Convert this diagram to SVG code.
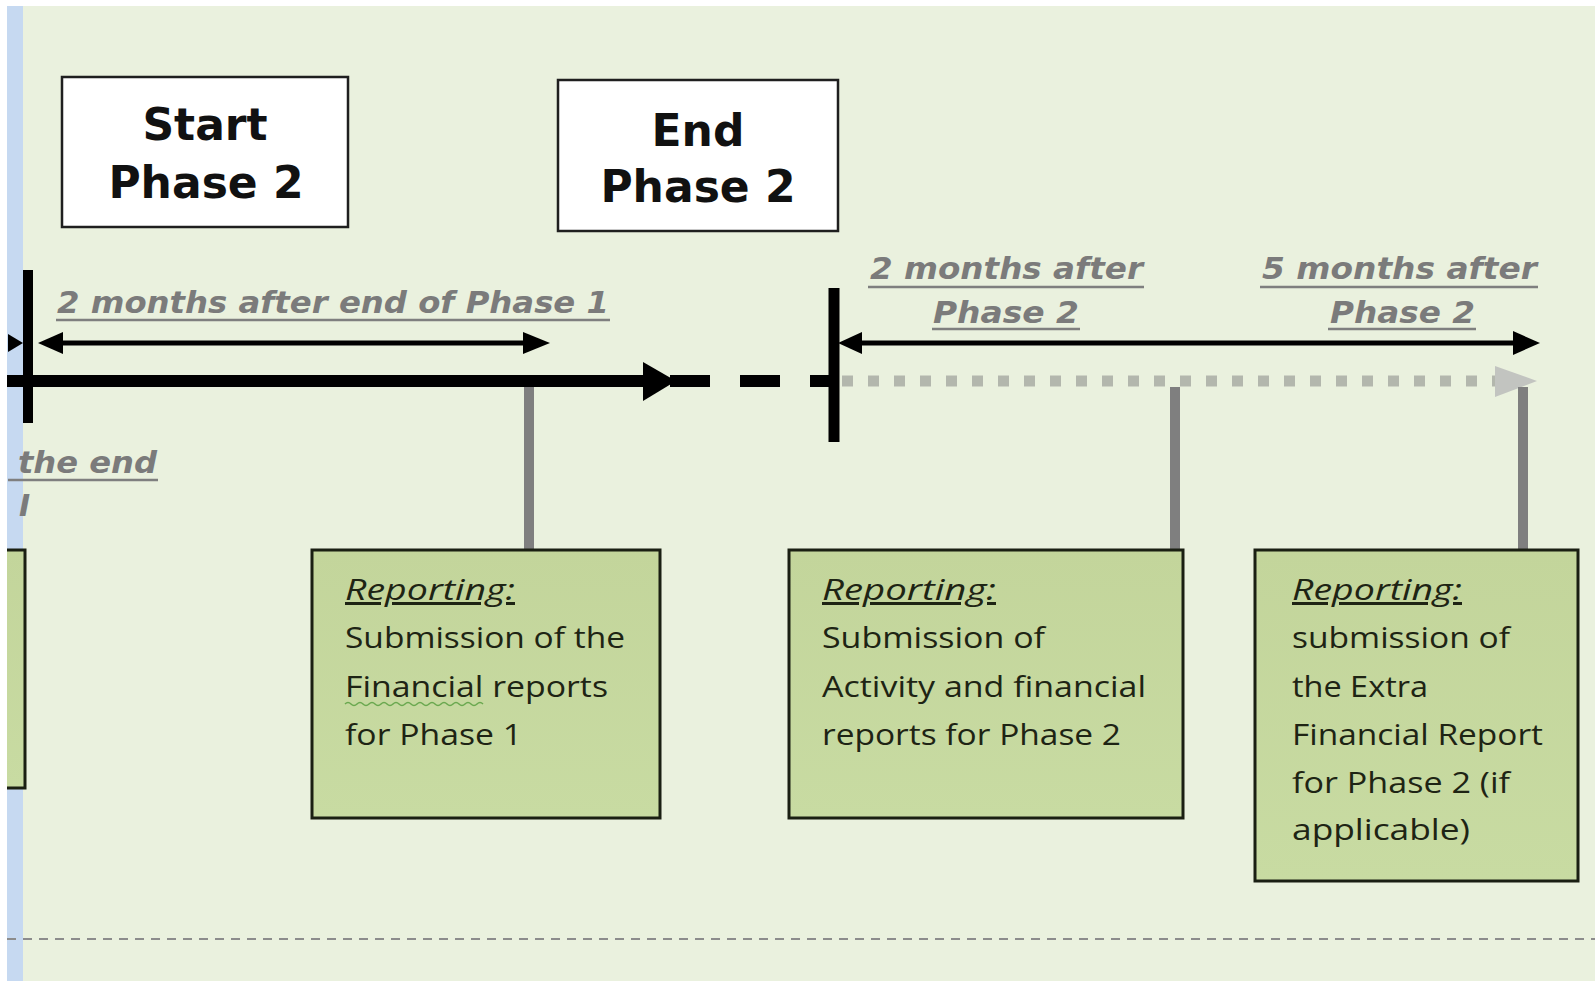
<svg xmlns="http://www.w3.org/2000/svg" width="1595" height="981" viewBox="0 0 1595 981">
<defs>
<style>
.title{font-family:"DejaVu Sans","Liberation Sans",sans-serif;font-weight:bold;font-size:44px;fill:#111;text-anchor:middle}
.lbl{font-family:"DejaVu Sans","Liberation Sans",sans-serif;font-weight:bold;font-style:italic;font-size:30px;fill:#7b7b7b}
.ul{stroke:#7f7f7f;stroke-width:2.5}
.box{font-family:"Open Sans","Liberation Sans",sans-serif;font-size:30px;fill:#1e2414}
.rep{font-style:italic;text-decoration:underline}
.wbox{fill:#ffffff;stroke:#1f1f1f;stroke-width:2.5}
.gbox{fill:url(#gg);stroke:#1a1f12;stroke-width:3}
.conn{stroke:#7f7f7f;stroke-width:10}
</style>
<linearGradient id="gg" x1="0" y1="0" x2="0" y2="1">
<stop offset="0" stop-color="#c3d59b"/>
<stop offset="1" stop-color="#c8dba2"/>
</linearGradient>
</defs>
<rect x="0" y="0" width="1595" height="981" fill="#ffffff"/>
<rect x="7" y="6" width="1588" height="975" fill="#eaf1de"/>
<rect x="7" y="6" width="16" height="975" fill="#c6d9f1"/>

<g id="start-phase2">
<rect class="wbox" x="62" y="77" width="286" height="150"/>
<text class="title" x="205" y="140">Start</text>
<text class="title" x="206" y="198">Phase 2</text>
</g>
<g id="end-phase2">
<rect class="wbox" x="558" y="80" width="280" height="151"/>
<text class="title" x="698" y="146">End</text>
<text class="title" x="698" y="202">Phase 2</text>
</g>

<g id="label-phase1">
<text class="lbl" x="57" y="313" textLength="552" lengthAdjust="spacingAndGlyphs">2 months after end of Phase 1</text>
<line class="ul" x1="56" y1="320" x2="610" y2="320"/>
</g>
<g id="label-end-left">
<text class="lbl" x="18" y="473" textLength="139" lengthAdjust="spacingAndGlyphs">the end</text>
<line class="ul" x1="8" y1="480" x2="158" y2="480"/>
<text class="lbl" x="19" y="516" font-size="34">I</text>
</g>
<g id="label-2months">
<text class="lbl" x="870" y="279" textLength="273" lengthAdjust="spacingAndGlyphs">2 months after</text>
<line class="ul" x1="868" y1="287" x2="1144" y2="287"/>
<text class="lbl" x="933" y="323" textLength="146" lengthAdjust="spacingAndGlyphs">Phase 2</text>
<line class="ul" x1="932" y1="329" x2="1080" y2="329"/>
</g>
<g id="label-5months">
<text class="lbl" x="1262" y="279" textLength="275" lengthAdjust="spacingAndGlyphs">5 months after</text>
<line class="ul" x1="1260" y1="287" x2="1538" y2="287"/>
<text class="lbl" x="1330" y="323" textLength="145" lengthAdjust="spacingAndGlyphs">Phase 2</text>
<line class="ul" x1="1328" y1="329" x2="1476" y2="329"/>
</g>

<g id="connectors">
<line x1="842" y1="381" x2="1500" y2="381" stroke="#b3b7ad" stroke-width="11" stroke-dasharray="11 15"/>
<polygon points="1495,366 1537,381 1495,397" fill="#c2c4c0"/>
<line class="conn" x1="529" y1="387" x2="529" y2="550"/>
<line class="conn" x1="1175" y1="387" x2="1175" y2="550"/>
<line class="conn" x1="1523" y1="387" x2="1523" y2="550"/>
<line x1="7" y1="381" x2="650" y2="381" stroke="#000" stroke-width="12"/>
<polygon points="643,362 676,381 643,401" fill="#000"/>
<line x1="670" y1="381" x2="710" y2="381" stroke="#000" stroke-width="12"/>
<line x1="740" y1="381" x2="780" y2="381" stroke="#000" stroke-width="12"/>
<line x1="810" y1="381" x2="834" y2="381" stroke="#000" stroke-width="12"/>
<line x1="28" y1="270" x2="28" y2="423" stroke="#000" stroke-width="10"/>
<line x1="834" y1="288" x2="834" y2="442" stroke="#000" stroke-width="11"/>
<line x1="55" y1="343" x2="530" y2="343" stroke="#000" stroke-width="5"/>
<polygon points="38,343 63,332 63,354" fill="#000"/>
<polygon points="550,343 523,332 523,354" fill="#000"/>
<polygon points="23,343 8,334 8,352" fill="#000"/>
<line x1="855" y1="343" x2="1520" y2="343" stroke="#000" stroke-width="5"/>
<polygon points="838,343 862,332 862,354" fill="#000"/>
<polygon points="1540,343 1513,331 1513,355" fill="#000"/>
</g>

<g id="box-left-partial">
<rect x="7" y="550" width="18" height="238" fill="url(#gg)"/>
<path d="M7,550 H25 V788 H7" fill="none" stroke="#1a1f12" stroke-width="3"/>
</g>
<g id="box-phase1-report">
<rect class="gbox" x="312" y="550" width="348" height="268"/>
<text class="box rep" x="345" y="600" textLength="170" lengthAdjust="spacingAndGlyphs">Reporting:</text>
<text class="box" x="345" y="648" textLength="280" lengthAdjust="spacingAndGlyphs">Submission of the</text>
<text class="box" x="345" y="697" textLength="263" lengthAdjust="spacingAndGlyphs">Financial reports</text>
<path d="M345,704 q3,-3 6,0 t6,0 t6,0 t6,0 t6,0 t6,0 t6,0 t6,0 t6,0 t6,0 t6,0 t6,0 t6,0 t6,0 t6,0 t6,0 t6,0 t6,0 t6,0 t6,0 t6,0 t6,0 t6,0" fill="none" stroke="#6aa84f" stroke-width="1.5"/>
<text class="box" x="345" y="745" textLength="177" lengthAdjust="spacingAndGlyphs">for Phase 1</text>
</g>
<g id="box-phase2-report">
<rect class="gbox" x="789" y="550" width="394" height="268"/>
<text class="box rep" x="822" y="600" textLength="174" lengthAdjust="spacingAndGlyphs">Reporting:</text>
<text class="box" x="822" y="648" textLength="223" lengthAdjust="spacingAndGlyphs">Submission of</text>
<text class="box" x="822" y="697" textLength="324" lengthAdjust="spacingAndGlyphs">Activity and financial</text>
<text class="box" x="822" y="745" textLength="299" lengthAdjust="spacingAndGlyphs">reports for Phase 2</text>
</g>
<g id="box-extra-report">
<rect class="gbox" x="1255" y="550" width="323" height="331"/>
<text class="box rep" x="1292" y="600" textLength="170" lengthAdjust="spacingAndGlyphs">Reporting:</text>
<text class="box" x="1292" y="648" textLength="218" lengthAdjust="spacingAndGlyphs">submission of</text>
<text class="box" x="1292" y="697" textLength="136" lengthAdjust="spacingAndGlyphs">the Extra</text>
<text class="box" x="1292" y="745" textLength="251" lengthAdjust="spacingAndGlyphs">Financial Report</text>
<text class="box" x="1292" y="793" textLength="218" lengthAdjust="spacingAndGlyphs">for Phase 2 (if</text>
<text class="box" x="1292" y="840" textLength="178" lengthAdjust="spacingAndGlyphs">applicable)</text>
</g>

<line x1="7" y1="939" x2="1595" y2="939" stroke="#8c8c8c" stroke-width="2" stroke-dasharray="9 7"/>
</svg>
